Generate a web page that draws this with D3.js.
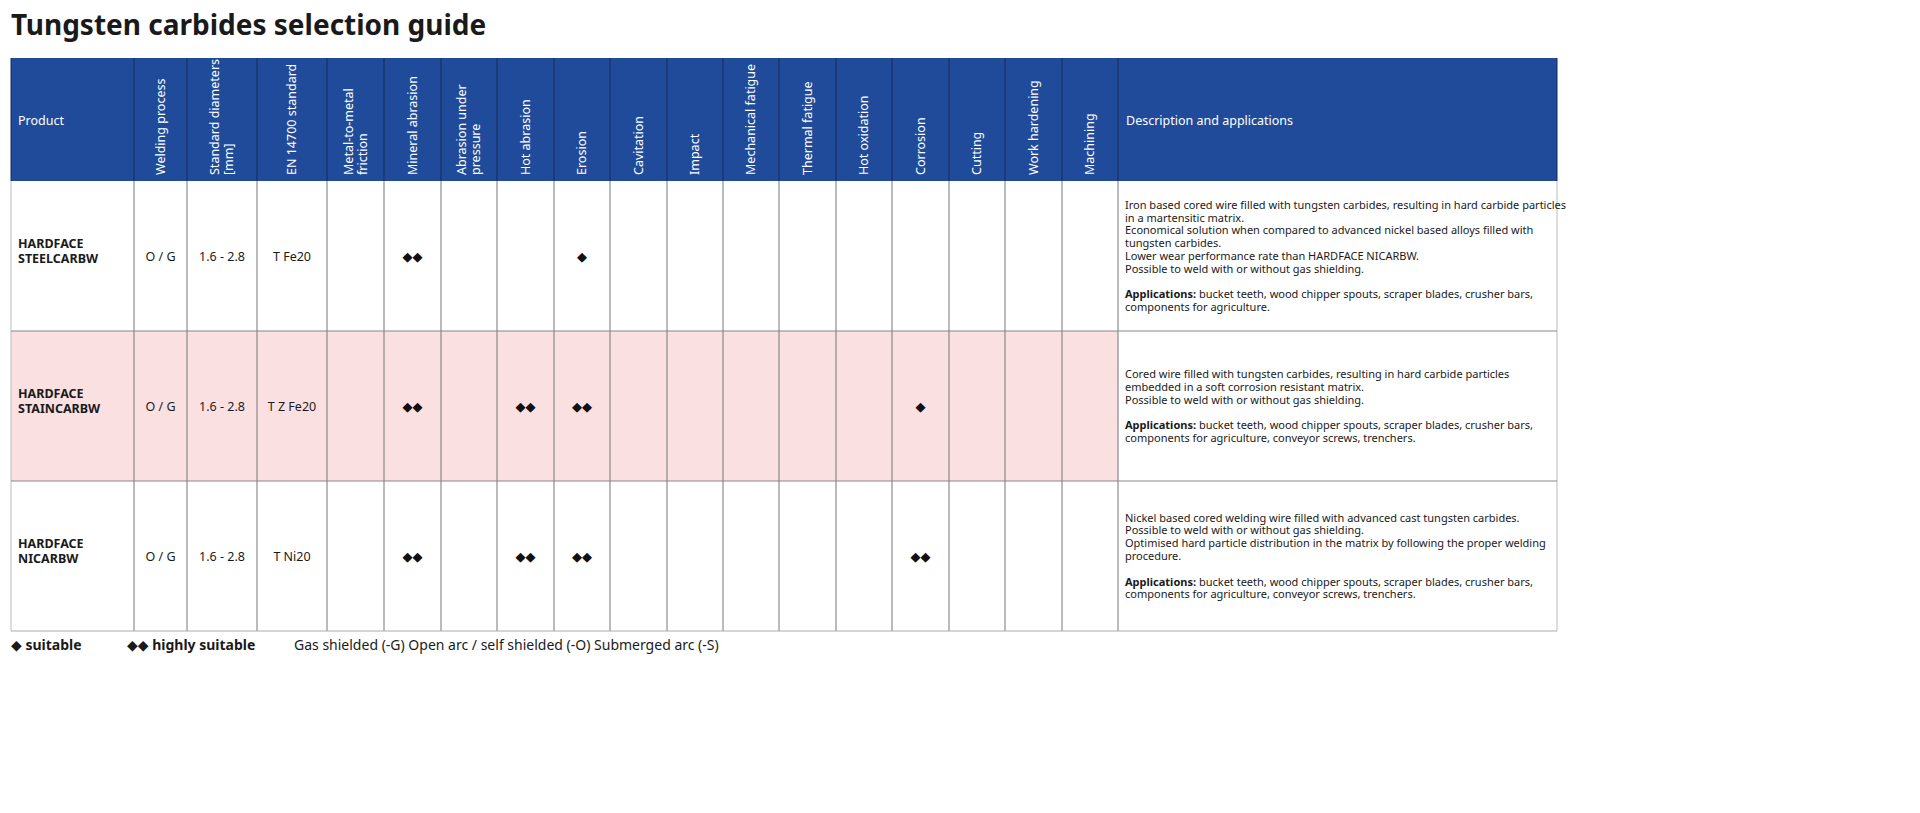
<!DOCTYPE html>
<html><head><meta charset="utf-8">
<script src="https://cdn.jsdelivr.net/npm/d3@7"></script>
<style>body{margin:0;background:#fff;font-family:"Noto Sans",sans-serif}</style>
</head><body>
<script>
var products = [["HARDFACE","STEELCARBW"],["HARDFACE","STAINCARBW"],["HARDFACE","NICARBW"]];
var process = ["O / G","O / G","O / G"];
var diameters = ["1.6 - 2.8","1.6 - 2.8","1.6 - 2.8"];
var standards = ["T Fe20","T Z Fe20","T Ni20"];
var properties = [["Metal-to-metal","friction"],["Mineral abrasion"],["Abrasion under","pressure"],["Hot abrasion"],["Erosion"],["Cavitation"],["Impact"],["Mechanical fatigue"],["Thermal fatigue"],["Hot oxidation"],["Corrosion"],["Cutting"],["Work hardening"],["Machining"]];
var ratings = [
  [0,2,0,0,1,0,0,0,0,0,0,0,0,0],
  [0,2,0,2,2,0,0,0,0,0,1,0,0,0],
  [0,2,0,2,2,0,0,0,0,0,2,0,0,0]
];
var descriptions = [
  ["Iron based cored wire filled with tungsten carbides, resulting in hard carbide particles","in a martensitic matrix.","Economical solution when compared to advanced nickel based alloys filled with","tungsten carbides.","Lower wear performance rate than HARDFACE NICARBW.","Possible to weld with or without gas shielding."],
  ["Cored wire filled with tungsten carbides, resulting in hard carbide particles","embedded in a soft corrosion resistant matrix.","Possible to weld with or without gas shielding."],
  ["Nickel based cored welding wire filled with advanced cast tungsten carbides.","Possible to weld with or without gas shielding.","Optimised hard particle distribution in the matrix by following the proper welding","procedure."]
];
var applications = [
  ["bucket teeth, wood chipper spouts, scraper blades, crusher bars,","components for agriculture."],
  ["bucket teeth, wood chipper spouts, scraper blades, crusher bars,","components for agriculture, conveyor screws, trenchers."],
  ["bucket teeth, wood chipper spouts, scraper blades, crusher bars,","components for agriculture, conveyor screws, trenchers."]
];
var rowFill = ["#ffffff","#fbe0e2","#ffffff"];

// layout
var edges = [11,134,187,257,327,384,441,497,554,610,667,723,779,836,892,949,1005,1062,1118,1557];
var tTop = 58, headH = 123, rowH = 150;
var headers = [["Product"],["Welding process"],["Standard diameters","[mm]"],["EN 14700 standard"]].concat(properties);

var svg = d3.select("body").append("svg").attr("width",1920).attr("height",813);
svg.append("text").attr("x",11).attr("y",35).attr("font-size",28).attr("font-weight",700)
  .attr("fill","#1a1a1a").text("Tungsten carbides selection guide");

var y = d3.scaleLinear().domain([0,3]).range([tTop+headH, tTop+headH+3*rowH]);
var tableR = edges[edges.length-1];

svg.append("rect").attr("x",edges[0]).attr("y",tTop).attr("width",tableR-edges[0]).attr("height",headH).attr("fill","#1f4b9a");

svg.selectAll(".rowbg").data(rowFill).enter().append("rect")
  .attr("x",edges[0]).attr("y",(d,i)=>y(i)).attr("width",edges[18]-edges[0]).attr("height",rowH).attr("fill",d=>d);

var g = svg.append("g");
edges.forEach(function(x,i){
  g.append("line").attr("x1",x).attr("x2",x).attr("y1",tTop).attr("y2",tTop+headH).attr("stroke","#1a2a55").attr("stroke-width",1);
  g.append("line").attr("x1",x).attr("x2",x).attr("y1",tTop+headH).attr("y2",y(3))
    .attr("stroke",(i==0||i==edges.length-1)?"#bbb":"#777").attr("stroke-width",1);
});
d3.range(1,4).forEach(function(r){
  g.append("line").attr("x1",edges[0]).attr("x2",tableR).attr("y1",y(r)).attr("y2",y(r)).attr("stroke",r==3?"#aaa":"#888");
});

headers.forEach(function(h,i){
  var cx = (edges[i]+edges[i+1])/2;
  if(i==0){
    svg.append("text").attr("x",edges[0]+7).attr("y",tTop+headH/2+5).attr("fill","#fff").attr("font-size",12.5).text(h[0]);
    return;
  }
  var t = svg.append("text").attr("transform","translate("+(cx-(h.length-1)*7+4)+","+(tTop+headH-6)+") rotate(-90)")
    .attr("fill","#fff").attr("font-size",12.5);
  h.forEach(function(s,k){ t.append("tspan").attr("x",0).attr("dy",k?14:0).text(s); });
});
svg.append("text").attr("x",edges[18]+8).attr("y",tTop+headH/2+5).attr("fill","#fff").attr("font-size",12.5).text("Description and applications");

function cx(i){ return (edges[i]+edges[i+1])/2; }
products.forEach(function(p,r){
  var my = (y(r)+y(r+1))/2;
  var t = svg.append("text").attr("x",edges[0]+7).attr("y",my-8).attr("font-size",12.5).attr("font-weight",700).attr("fill","#1a1a1a");
  p.forEach(function(s,k){ t.append("tspan").attr("x",edges[0]+7).attr("dy",k?15:0).text(s); });
  [process[r],diameters[r],standards[r]].forEach(function(v,k){
    svg.append("text").attr("x",cx(k+1)).attr("y",my+5).attr("text-anchor","middle").attr("font-size",12.5).attr("fill","#1a1a1a").text(v);
  });
  ratings[r].forEach(function(v,k){
    if(!v) return;
    svg.append("text").attr("x",cx(k+4)).attr("y",my+5).attr("text-anchor","middle").attr("font-size",13).attr("fill","#111")
      .attr("font-family","DejaVu Sans").text(v==2?"◆◆":"◆");
  });
  var lines = descriptions[r].length + 1 + applications[r].length;
  var lh = 12.8;
  var y0 = my - (lines-1)*lh/2 + 4;
  var dt = svg.append("text").attr("font-size",11).attr("fill","#1a1a1a");
  descriptions[r].forEach(function(s,k){ dt.append("tspan").attr("x",edges[18]+7).attr("y",y0+k*lh).text(s); });
  var ay = y0 + (descriptions[r].length+1)*lh;
  applications[r].forEach(function(s,k){
    var ts = dt.append("tspan").attr("x",edges[18]+7).attr("y",ay+k*lh);
    if(k==0){ ts.append("tspan").attr("font-weight",700).text("Applications: "); ts.append("tspan").text(s); }
    else ts.text(s);
  });
});

var ly = y(3)+19;
svg.append("text").attr("x",11).attr("y",ly).attr("font-size",14).attr("fill","#1a1a1a")
  .html('<tspan font-family="DejaVu Sans">◆</tspan><tspan font-weight="700"> suitable</tspan>');
svg.append("text").attr("x",127).attr("y",ly).attr("font-size",14).attr("fill","#1a1a1a")
  .html('<tspan font-family="DejaVu Sans">◆◆</tspan><tspan font-weight="700"> highly suitable</tspan>');
svg.append("text").attr("x",294).attr("y",ly).attr("font-size",14).attr("fill","#1a1a1a")
  .text("Gas shielded (-G) Open arc / self shielded (-O) Submerged arc (-S)");
</script>
</body></html>
